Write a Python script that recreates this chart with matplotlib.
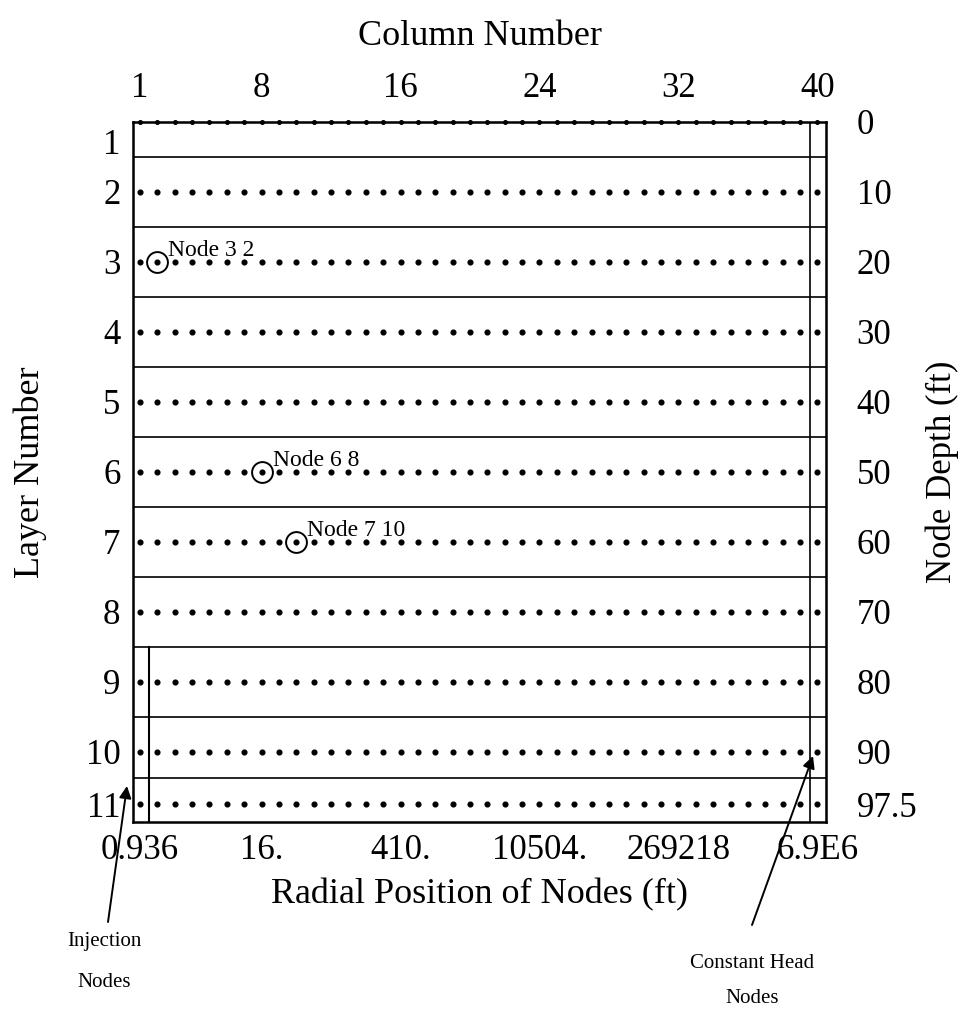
import numpy as np
import matplotlib
matplotlib.use("Agg")
import matplotlib.pyplot as plt

plt.rcParams['font.family'] = ['Liberation Serif', 'DejaVu Serif']

# grid definition
columns = np.arange(1, 41)
layers = np.arange(1, 12)
node_depths = [0, 10, 20, 30, 40, 50, 60, 70, 80, 90, 97.5]
layer_bounds = [5, 15, 25, 35, 45, 55, 65, 75, 85, 93.75]
layer_label_depths = [2.8, 10, 20, 30, 40, 50, 60, 70, 80, 90, 97.5]

col_ticks = [1, 8, 16, 24, 32, 40]
radial_labels = ['0.936', '16.', '410.', '10504.', '269218', '6.9E6']
depth_labels = ['0', '10', '20', '30', '40', '50', '60', '70', '80', '90', '97.5']

# highlighted nodes (layer, column)
marked_nodes = [(3, 2), (6, 8), (7, 10)]

injection_col = 1.5
injection_top = 75
const_head_col = 39.6

W, H = 968, 1013
fig = plt.figure(figsize=(W / 100, H / 100), dpi=100)
ax = fig.add_axes([0.1374, 0.1886, 0.716, 0.691])

ax.set_xlim(0.6, 40.5)
ax.set_ylim(100, 0)

for d in layer_bounds:
    ax.axhline(d, color='black', linewidth=1.2)
ax.plot([injection_col, injection_col], [injection_top, 100], color='black', linewidth=1.5)
ax.axvline(const_head_col, color='black', linewidth=1.2)

for d in node_depths:
    ms = 2.6 if d == 0 else 3.4
    ax.plot(columns, [d] * len(columns), linestyle='none', marker='o',
            markersize=ms, color='black', clip_on=False, zorder=3)

for lay, col in marked_nodes:
    d = node_depths[lay - 1]
    ax.plot(col, d, marker='o', markersize=15, markerfacecolor='none',
            markeredgecolor='black', markeredgewidth=1.4, linestyle='none')
    ax.annotate(f'Node {lay} {col}', (col, d), xytext=(8, 1),
                textcoords='offset points', ha='left', va='bottom', fontsize=17)

for s in ax.spines.values():
    s.set_linewidth(1.8)

# bottom: radial positions, left: layer numbers
ax.set_xticks(col_ticks)
ax.set_xticklabels(radial_labels)
ax.set_yticks(layer_label_depths)
ax.set_yticklabels([str(l) for l in layers])
ax.tick_params(length=0, labelsize=25, pad=9)
ax.set_xlabel('Radial Position of Nodes (ft)', fontsize=26, labelpad=8)
ax.set_ylabel('Layer Number', fontsize=26, labelpad=28)

top = ax.secondary_xaxis('top')
top.set_xticks(col_ticks)
top.set_xticklabels([str(c) for c in col_ticks])
top.tick_params(length=0, labelsize=25, pad=12)
top.set_xlabel('Column Number', fontsize=26, labelpad=20)

right = ax.secondary_yaxis('right')
right.set_yticks(node_depths)
right.set_yticklabels(depth_labels)
right.tick_params(length=0, labelsize=25, pad=22)
right.set_ylabel('Node Depth (ft)', fontsize=25, labelpad=6)

# callouts (figure pixel positions, y measured from the top)
arrow = dict(arrowstyle='-|>', color='black', lw=1.4, shrinkA=0, shrinkB=0,
             mutation_scale=18)
ax.annotate('', xy=(127, H - 786), xytext=(108, H - 922),
            xycoords='figure pixels', textcoords='figure pixels', arrowprops=arrow)
ax.annotate('', xy=(813, H - 756), xytext=(752, H - 925),
            xycoords='figure pixels', textcoords='figure pixels', arrowprops=arrow)
fig.text(104 / W, 1 - 962 / H, 'Injection\nNodes', ha='center', va='center',
         fontsize=15, linespacing=2.6)
fig.text(752 / W, 1 - 981 / H, 'Constant Head\nNodes', ha='center', va='center',
         fontsize=15, linespacing=2.2)

fig.savefig('out.png', dpi=100)
